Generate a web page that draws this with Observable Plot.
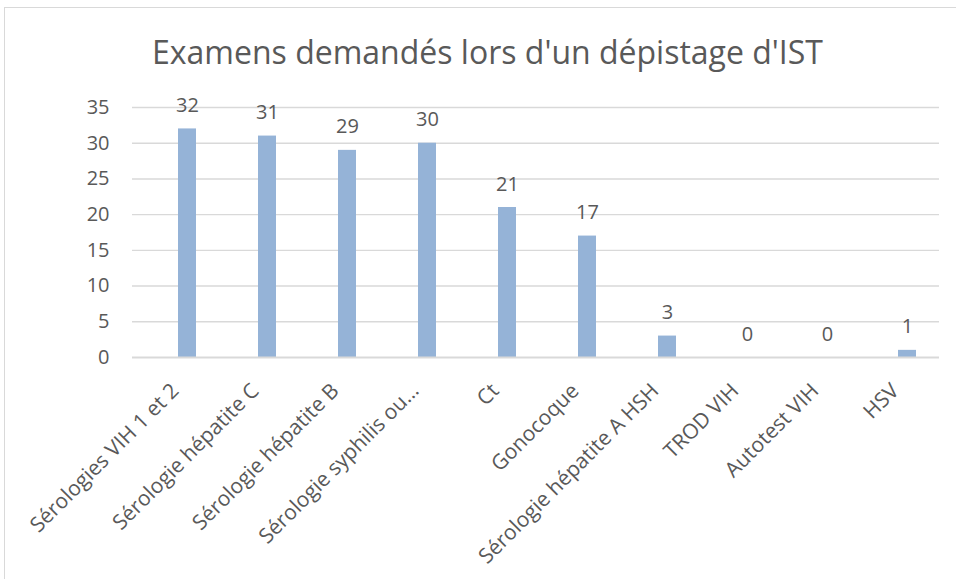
<!DOCTYPE html>
<html>
<head>
<meta charset="utf-8">
<script src="https://cdn.jsdelivr.net/npm/d3@7"></script>
<script src="https://cdn.jsdelivr.net/npm/@observablehq/plot@0.6"></script>
<style>
  body { margin: 0; background: #fff; }
  #wrap { position: relative; width: 956px; height: 579px; overflow: hidden; background: #fff; }
  #border { position: absolute; left: 4px; top: 7px; right: -20px; bottom: -20px; border: 1.5px solid #d9d9d9; }
  #title { position: absolute; left: 0; width: 975px; top: 30px; text-align: center; font-family: "Open Sans", sans-serif; font-size: 32px; color: #595959; font-weight: 400; }
  #chart { position: absolute; left: 0; top: 0; }
</style>
</head>
<body>
<div id="wrap">
  <div id="border"></div>
  <div id="title">Examens demandés lors d'un dépistage d'IST</div>
  <div id="chart"></div>
</div>
<script>
const categories = ["Sérologies VIH 1 et 2", "Sérologie hépatite C", "Sérologie hépatite B", "Sérologie syphilis ou…", "Ct", "Gonocoque", "Sérologie hépatite A HSH", "TROD VIH", "Autotest VIH", "HSV"];
const values = [32, 31, 29, 30, 21, 17, 3, 0, 0, 1];
const yTicks = [0, 5, 10, 15, 20, 25, 30, 35];

const data = categories.map((c, i) => ({category: c, value: values[i]}));
const txt = "#595959";

const plot = Plot.plot({
  width: 956,
  height: 579,
  marginLeft: 132,
  marginRight: 17,
  marginTop: 107,
  marginBottom: 222,
  style: { fontFamily: "Open Sans, sans-serif", fontSize: "20px", color: txt, background: "transparent" },
  x: { domain: categories, range: [143.7, 950.3], paddingInner: 0.777, paddingOuter: 0.3885, label: null, axis: null },
  y: { domain: [0, 35], label: null },
  marks: [
    Plot.ruleY(yTicks.filter(d => d > 0), { stroke: "#d9d9d9", strokeWidth: 1.4 }),
    Plot.barY(data, { x: "category", y: "value", fill: "#95b3d7" }),
    Plot.ruleY([0], { stroke: "#d9d9d9", strokeWidth: 2 }),
    Plot.text(data, { x: "category", y: "value", text: d => String(d.value), lineAnchor: "bottom", dy: -17, fill: txt, fontSize: 20 }),
    Plot.axisY({ ticks: yTicks, tickSize: 0, tickPadding: 23, fontSize: 20, fill: txt }),
    Plot.text(categories, { x: d => d, y: () => 0, text: d => d, rotate: -45, textAnchor: "end", lineAnchor: "top", dx: -18, dy: 24, fontSize: 21, fill: txt })
  ]
});
document.getElementById("chart").appendChild(plot);
</script>
</body>
</html>
